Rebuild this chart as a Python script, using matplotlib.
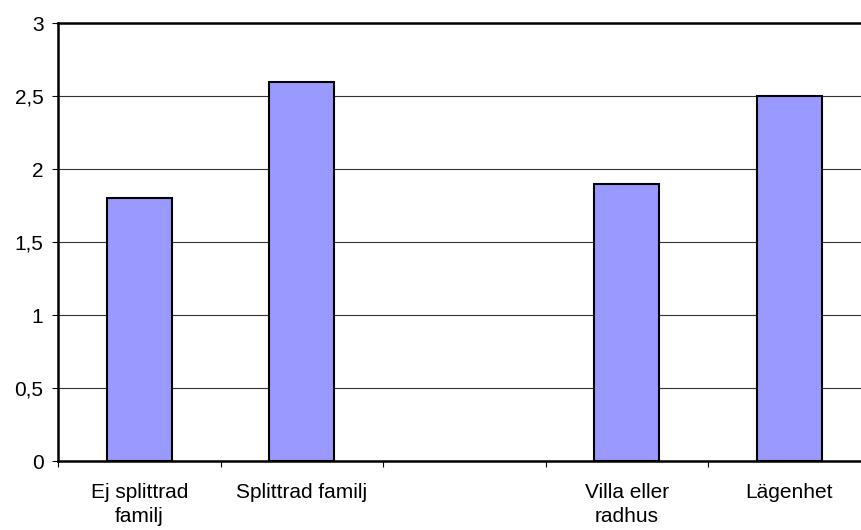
import numpy as np
import matplotlib
matplotlib.use("Agg")
import matplotlib.pyplot as plt
from matplotlib.ticker import FuncFormatter, FixedLocator

# category labels and values (middle slot is empty in the original)
categories = ["Ej splittrad\nfamilj", "Splittrad familj", "", "Villa eller\nradhus", "Lägenhet"]
values = [1.8, 2.6, None, 1.9, 2.5]
y_ticks = [0, 0.5, 1, 1.5, 2, 2.5, 3]

plt.rcParams["font.family"] = ["Liberation Sans", "DejaVu Sans"]

fig = plt.figure(figsize=(8.61, 5.30), dpi=100)
ax = fig.add_axes([0.0674, 0.130, 0.9437, 0.8264])

pos = np.arange(len(categories))
bar_x = [p for p, v in zip(pos, values) if v is not None]
bar_h = [v for v in values if v is not None]
ax.bar(bar_x, bar_h, width=0.4, color="#9999FF", edgecolor="black", linewidth=1.5, zorder=3)

ax.set_xlim(-0.5, len(categories) - 0.5)
ax.set_ylim(0, 3)

ax.set_yticks(y_ticks)
ax.yaxis.set_major_formatter(FuncFormatter(lambda v, _: f"{v:g}".replace(".", ",")))
ax.yaxis.grid(True, color="#333333", linewidth=0.8, zorder=0)

ax.set_xticks(pos)
ax.set_xticklabels(categories, linespacing=1.3)
ax.xaxis.set_minor_locator(FixedLocator(np.arange(-0.5, len(categories), 1.0)))
ax.tick_params(axis="x", which="major", length=0, pad=16, labelsize=15)
ax.tick_params(axis="x", which="minor", length=4.5, width=0.8, direction="out")
ax.tick_params(axis="y", length=4.5, width=0.8, pad=6, labelsize=15)

for side in ["left", "top", "bottom"]:
    ax.spines[side].set_linewidth(1.8)
    ax.spines[side].set_color("black")
ax.spines["right"].set_visible(False)

fig.savefig("out.png", dpi=100)
